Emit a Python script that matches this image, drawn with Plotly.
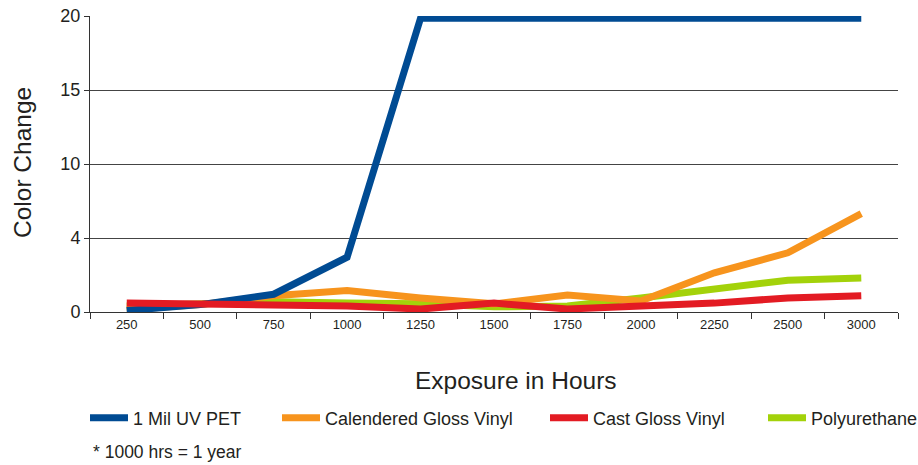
import plotly.graph_objects as go

hours = ["250", "500", "750", "1000", "1250", "1500", "1750", "2000", "2250", "2500", "3000"]

pet = [0.1, 0.5, 1.2, 3.7, 19.85, 19.85, 19.85, 19.85, 19.85, 19.85, 19.85]
calendered = [0.15, 0.5, 1.1, 1.45, 0.95, 0.55, 1.15, 0.75, 2.65, 4.0, 6.65]
cast = [0.6, 0.55, 0.5, 0.4, 0.2, 0.6, 0.2, 0.4, 0.6, 0.95, 1.1]
poly = [0.4, 0.5, 0.7, 0.6, 0.55, 0.35, 0.4, 0.95, 1.6, 2.15, 2.3]

y_tickvals = [0, 5, 10, 15, 20]
y_ticktext = ["0", "4", "10", "15", "20"]

series = [
    ("1 Mil UV PET", pet, "#004B93", "legend"),
    ("Calendered Gloss Vinyl", calendered, "#F7941D", "legend2"),
    ("Cast Gloss Vinyl", cast, "#E31B23", "legend3"),
    ("Polyurethane", poly, "#A3D20A", "legend4"),
]

FONT = "Liberation Sans, Arial, Helvetica, sans-serif"
TXT = "#231F20"

fig = go.Figure()
order = [3, 1, 0, 2]
for i in order:
    name, vals, color, leg = series[i]
    fig.add_trace(go.Scatter(
        x=hours, y=vals, name=name, mode="lines",
        line=dict(color=color, width=7),
        legend=leg,
    ))

L, R, T, B = 90, 20, 16, 153
W, H = 918, 465

def cx(p):
    return p / W

def cy(p):
    return 1 - p / H

legend_common = dict(
    orientation="h", yanchor="middle", xanchor="left",
    xref="container", yref="container",
    font=dict(family=FONT, size=18, color=TXT),
    bgcolor="rgba(0,0,0,0)", borderwidth=0, itemwidth=38,
    tracegroupgap=0,
)
leg_starts = [85, 277, 545, 763]
lay_leg = {}
for k, s in zip(["legend", "legend2", "legend3", "legend4"], leg_starts):
    lay_leg[k] = dict(legend_common, x=cx(s), y=cy(418))

fig.update_layout(
    width=W, height=H,
    margin=dict(l=L, r=R, t=T, b=B, pad=0, autoexpand=False),
    paper_bgcolor="white", plot_bgcolor="white",
    font=dict(family=FONT, color=TXT),
    showlegend=True,
    xaxis=dict(
        type="category", categoryorder="array", categoryarray=hours,
        showgrid=False, showline=True, linecolor="#333333", linewidth=1,
        ticks="outside", tickson="boundaries", ticklen=6, tickcolor="#333333",
        tickfont=dict(family=FONT, size=13, color=TXT),
        zeroline=False, range=[-0.5, 10.5],
    ),
    yaxis=dict(
        range=[0, 20], tickvals=y_tickvals, ticktext=y_ticktext,
        showgrid=True, gridcolor="#444444", gridwidth=1,
        showline=True, linecolor="#333333", linewidth=1,
        ticks="outside", ticklen=5, tickcolor="#333333",
        tickfont=dict(family=FONT, size=18, color=TXT),
        zeroline=False,
    ),
    annotations=[
        dict(text="Exposure in Hours", xref="paper", yref="paper",
             x=(516 - L) / (W - L - R), y=(H - B - 380) / (H - T - B),
             xanchor="center", yanchor="middle",
             showarrow=False, font=dict(family=FONT, size=24.5, color=TXT)),
        dict(text="Color Change", xref="paper", yref="paper",
             x=(22 - L) / (W - L - R), y=(H - B - 163) / (H - T - B),
             xanchor="center", yanchor="middle",
             textangle=-90, showarrow=False,
             font=dict(family=FONT, size=24.5, color=TXT)),
        dict(text="* 1000 hrs = 1 year", xref="paper", yref="paper",
             x=(91 - L) / (W - L - R), y=(H - B - 452) / (H - T - B),
             xanchor="left", yanchor="middle",
             showarrow=False, font=dict(family=FONT, size=17.5, color=TXT)),
    ],
    **lay_leg,
)

fig.write_html("out.html", config={"displayModeBar": False},
               post_script="document.body.style.margin='0px';")
